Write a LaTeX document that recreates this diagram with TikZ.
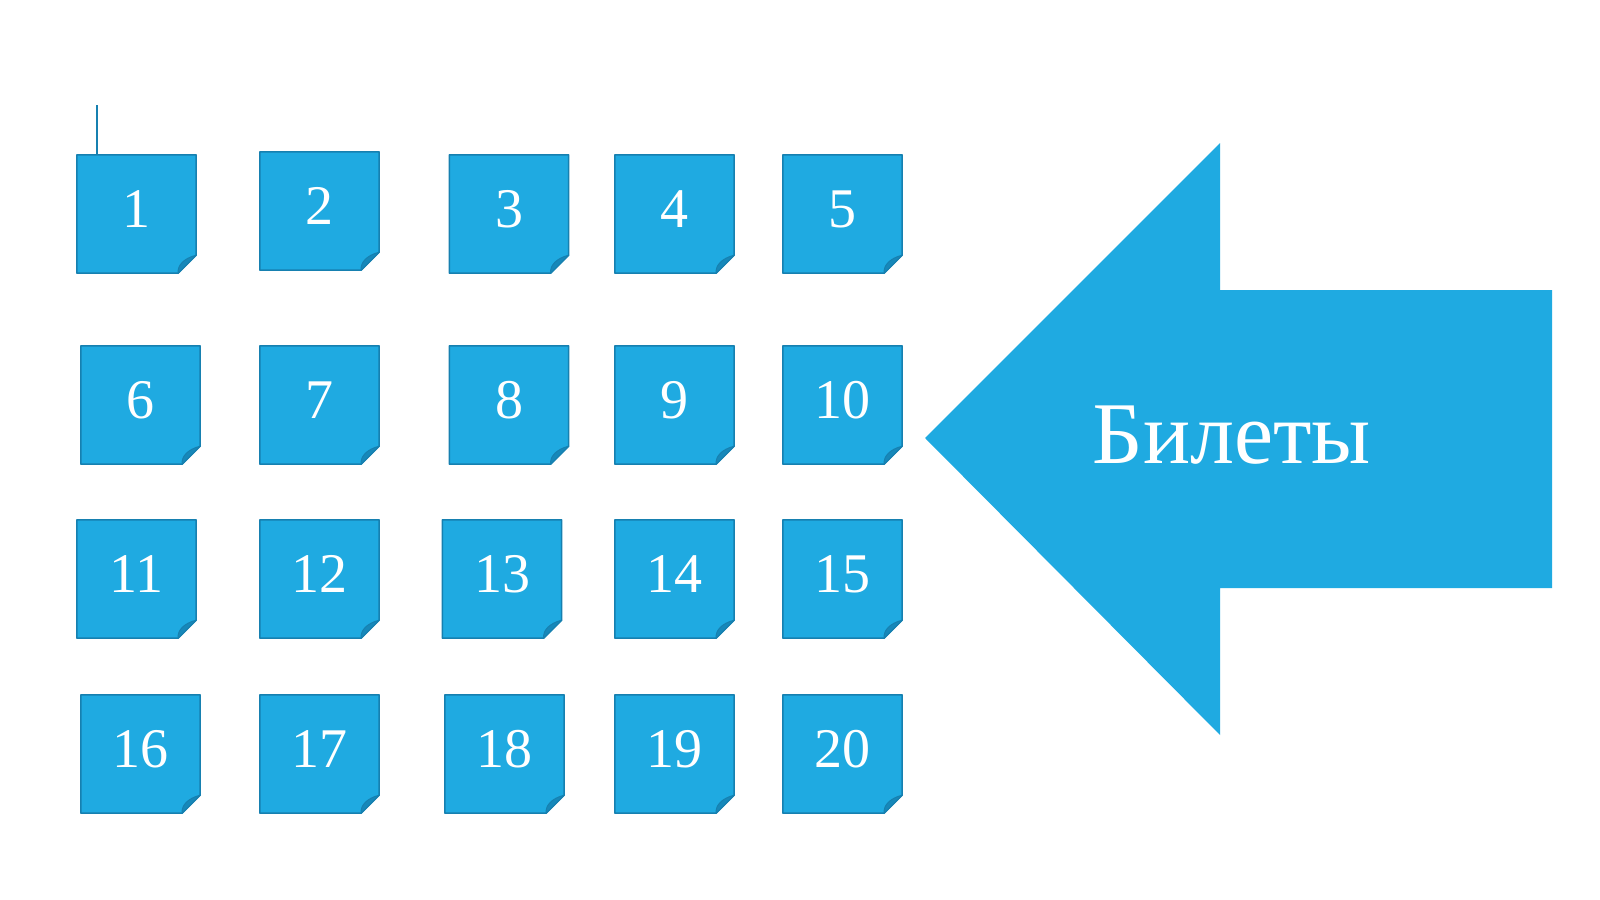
\documentclass[tikz,border=0pt]{standalone}
\usepackage{fontspec}
\setmainfont{Liberation Serif}
\definecolor{tfill}{RGB}{31,170,225}
\definecolor{tedge}{RGB}{22,128,176}
\definecolor{tfold}{RGB}{22,136,186}
\tikzset{
  tbox/.style={minimum width=119pt, minimum height=118pt, inner sep=0pt},
  tnum/.style={text=white, font=\fontsize{56}{60}\selectfont, inner sep=0pt, yshift=5pt},
  arrowlbl/.style={text=white, font=\fontsize{88}{92}\selectfont, inner sep=0pt}
}
\begin{document}
\begin{tikzpicture}[x=1pt,y=-1pt]
\useasboundingbox (0,0) rectangle (1600,899);
\fill[white] (0,0) rectangle (1600,899);
% big arrow
\fill[tfill] (925,438) -- (1220,143) -- (1220,290) -- (1552,290) -- (1552,588) -- (1220,588) -- (1220,735) -- cycle;
\node[arrowlbl] (lbl) at (1232,435) {Билеты};
% tickets
\foreach \n/\cx/\cy in {1/136.5/214, 2/319.5/211, 3/509/214, 4/674.5/214, 5/842.5/214,
  6/140.5/405, 7/319.5/405, 8/509/405, 9/674.5/405, 10/842.5/405,
  11/136.5/579, 12/319.5/579, 13/502/579, 14/674.5/579, 15/842.5/579,
  16/140.5/754, 17/319.5/754, 18/504.5/754, 19/674.5/754, 20/842.5/754}{
  \node[tbox] (t\n) at (\cx,\cy) {};
  \fill[tfill, draw=tedge, line width=1.5pt, line join=round]
    (t\n.north west) -- (t\n.north east) -- ([yshift=18pt]t\n.south east)
    -- ([xshift=-18pt]t\n.south east) -- (t\n.south west) -- cycle;
  \fill[tfold, draw=tedge, line width=1pt, line join=round]
    ([yshift=18pt]t\n.south east) -- ([xshift=-18pt]t\n.south east)
    .. controls ([xshift=-19pt,yshift=8pt]t\n.south east) and ([xshift=-12pt,yshift=15pt]t\n.south east)
    .. ([yshift=18pt]t\n.south east) -- cycle;
  \node[tnum] (n\n) at (t\n.center) {\n};
}
% small line above ticket 1
\coordinate (topmark) at (97,105);
\draw[tedge, line width=2pt] (topmark) -- (topmark |- t1.north);
\end{tikzpicture}
\end{document}
